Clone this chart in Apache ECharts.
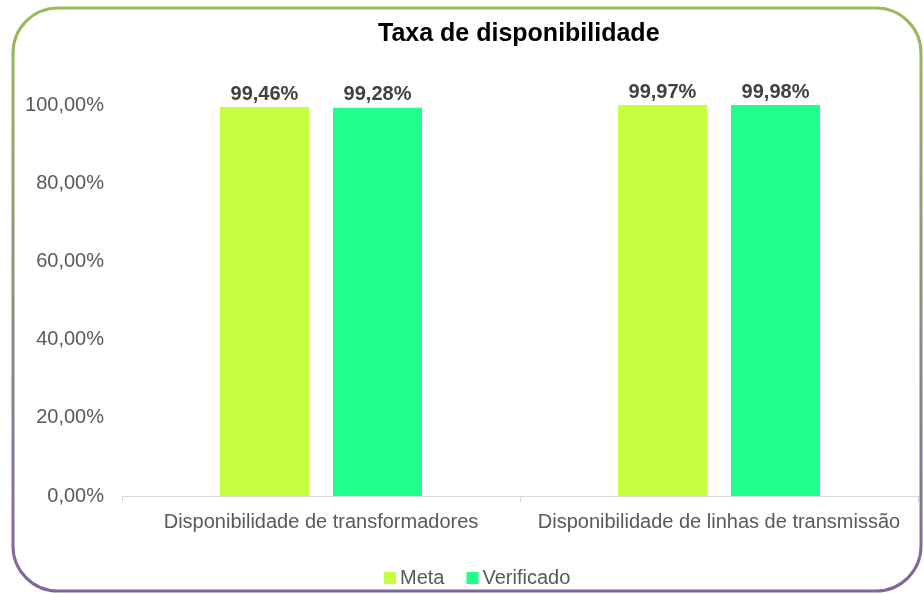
<!DOCTYPE html>
<html>
<head>
<meta charset="utf-8">
<script src="https://cdn.jsdelivr.net/npm/echarts@6/dist/echarts.min.js"></script>
<style>
  html, body { margin: 0; padding: 0; background: #fff; }
  #chart { width: 924px; height: 594px; }
</style>
</head>
<body>
<div id="chart"></div>
<script>
  // dados do gráfico
  const categories = ['Disponibilidade de transformadores', 'Disponibilidade de linhas de transmissão'];
  const metaValues = [99.46, 99.97];
  const verificadoValues = [99.28, 99.98];
  const yTicks = [0, 20, 40, 60, 80, 100];

  const FONT = '"Liberation Sans", Arial, sans-serif';
  const fmt = (v, d) => v.toFixed(d).replace('.', ',') + '%';

  const chart = echarts.init(document.getElementById('chart'));

  chart.setOption({
    animation: false,
    textStyle: { fontFamily: FONT },
    // moldura arredondada com gradiente (verde -> roxo)
    graphic: [{
      type: 'rect',
      silent: true,
      shape: { x: 13, y: 8, width: 908, height: 583, r: 45 },
      style: {
        fill: 'none',
        lineWidth: 3,
        stroke: new echarts.graphic.LinearGradient(0, 0, 0, 1, [
          { offset: 0, color: '#9bbb59' },
          { offset: 1, color: '#8064a2' }
        ])
      }
    }],
    title: {
      text: 'Taxa de disponibilidade',
      left: 373,
      top: 17,
      textStyle: { fontFamily: FONT, fontSize: 25, fontWeight: 'bold', color: '#000' }
    },
    legend: {
      left: 379,
      top: 563,
      itemWidth: 12,
      itemHeight: 12,
      itemGap: 22,
      icon: 'rect',
      textStyle: { fontFamily: FONT, fontSize: 20, color: '#595959', padding: [0, 0, 0, -1] },
      data: ['Meta', 'Verificado']
    },
    grid: { left: 122, right: 6, top: 105, bottom: 98, containLabel: false },
    xAxis: {
      type: 'category',
      data: categories,
      axisLine: { lineStyle: { color: '#d9d9d9', width: 1 } },
      axisTick: { show: true, length: 6, lineStyle: { color: '#d9d9d9' } },
      axisLabel: { fontFamily: FONT, fontSize: 20, color: '#595959', margin: 16, interval: 0 }
    },
    yAxis: {
      type: 'value',
      min: yTicks[0],
      max: yTicks[yTicks.length - 1],
      interval: yTicks[1] - yTicks[0],
      axisLine: { show: false },
      axisTick: { show: false },
      splitLine: { show: false },
      axisLabel: {
        fontFamily: FONT, fontSize: 20, color: '#595959', margin: 18,
        formatter: (v) => fmt(v, 2)
      }
    },
    series: [
      {
        name: 'Meta',
        type: 'bar',
        data: metaValues,
        barWidth: 89,
        barGap: '27%',
        itemStyle: { color: '#c6ff40' },
        label: {
          show: true, position: 'top', distance: 3,
          fontFamily: FONT, fontSize: 20, fontWeight: 'bold', color: '#404040',
          formatter: (p) => fmt(p.value, 2)
        }
      },
      {
        name: 'Verificado',
        type: 'bar',
        data: verificadoValues,
        barWidth: 89,
        itemStyle: { color: '#20ff8c' },
        label: {
          show: true, position: 'top', distance: 3,
          fontFamily: FONT, fontSize: 20, fontWeight: 'bold', color: '#404040',
          formatter: (p) => fmt(p.value, 2)
        }
      }
    ]
  });
</script>
</body>
</html>
